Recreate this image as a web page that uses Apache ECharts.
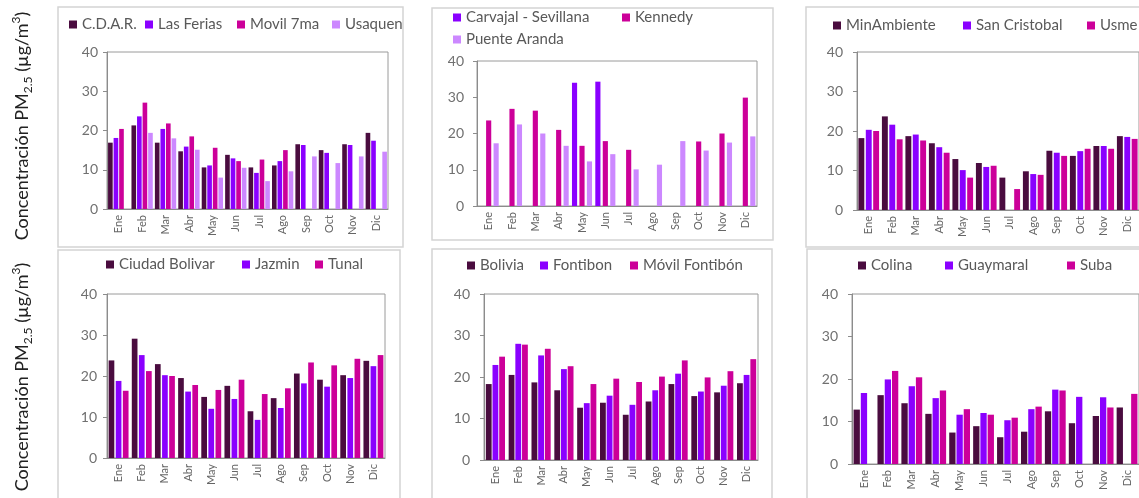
<!DOCTYPE html>
<html>
<head>
<meta charset="utf-8">
<script src="https://cdn.jsdelivr.net/npm/echarts@6/dist/echarts.min.js"></script>
<style>
  html, body { margin: 0; padding: 0; background: #fff; }
  #chart { width: 1139px; height: 498px; }
</style>
</head>
<body>
<div id="chart"></div>
<script>
const months = ['Ene', 'Feb', 'Mar', 'Abr', 'May', 'Jun', 'Jul', 'Ago', 'Sep', 'Oct', 'Nov', 'Dic']
const yTicks = [0, 10, 20, 30, 40]

// panel 1
const cdar = [16.9, 21.3, 16.9, 14.7, 10.6, 13.8, 10.6, 11.1, 16.5, 15.0, 16.5, 19.4]
const lasFerias = [18.1, 23.6, 20.4, 15.9, 11.1, 12.9, 9.2, 12.2, 16.3, 14.3, 16.3, 17.4]
const movil7ma = [20.4, 27.1, 21.8, 18.5, 15.6, 12.2, 12.6, 15.0, null, null, null, null]
const usaquen = [null, 19.4, 18.0, 15.1, 8.0, 10.5, 7.1, 9.6, 13.4, 11.7, 13.4, 14.6]
// panel 2
const carvajal = [null, null, null, null, 34.0, 34.3, null, null, null, null, null, null]
const kennedy = [23.6, 26.8, 26.3, 21.0, 16.6, 17.9, 15.5, null, null, 17.8, 20.0, 29.9]
const puenteAranda = [17.3, 22.5, 20.0, 16.6, 12.3, 14.3, 10.1, 11.4, 17.9, 15.3, 17.5, 19.2]
// panel 3
const minAmbiente = [18.2, 23.7, 18.7, 16.9, 12.9, 11.9, 8.2, 9.8, 15.0, 13.7, 16.2, 18.7]
const sanCristobal = [20.3, 21.6, 19.1, 15.9, 10.1, 10.9, null, 9.1, 14.5, 14.9, 16.2, 18.5]
const usme = [20.0, 17.9, 17.6, 14.5, 8.2, 11.2, 5.3, 8.9, 13.7, 15.5, 15.5, 18.0]
// panel 4
const ciudadBolivar = [23.8, 29.1, 22.9, 19.5, 14.9, 17.6, 11.4, 14.6, 20.6, 19.1, 20.2, 23.7]
const jazmin = [18.8, 25.1, 20.2, 16.2, 12.0, 14.4, 9.3, 12.2, 18.2, 17.4, 19.5, 22.4]
const tunal = [16.4, 21.2, 20.0, 17.8, 16.6, 19.1, 15.6, 17.0, 23.3, 22.6, 24.2, 25.1]
// panel 5
const bolivia = [18.3, 20.5, 18.7, 16.8, 12.6, 13.8, 10.9, 14.1, 18.3, 15.4, 16.3, 18.5]
const fontibon = [22.9, 28.0, 25.2, 21.9, 13.7, 15.5, 13.3, 16.8, 20.8, 16.5, 17.9, 20.5]
const movilFontibon = [24.9, 27.8, 26.8, 22.6, 18.3, 19.6, 18.8, 20.1, 24.0, 19.9, 21.4, 24.3]
// panel 6
const colina = [12.8, 16.2, 14.3, 11.8, 7.4, 8.9, 6.3, 7.6, 12.4, 9.6, 11.3, 13.3]
const guaymaral = [16.7, 19.9, 18.3, 15.5, 11.6, 12.0, 10.3, 12.9, 17.5, 15.8, 15.7, null]
const suba = [null, 21.9, 20.4, 17.3, 12.9, 11.6, 10.9, 13.5, 17.3, null, 13.3, 16.5]

const DARK = '#4a0c3f'
const VIOLET = '#8a00ff'
const MAGENTA = '#cc0099'
const LAVENDER = '#cc88ff'
const FONT = 'Lato'

const panels = [
  {
    grid: { left: 107, top: 52, width: 281, height: 157 },
    box: [58, 7, 345, 240],
    labelMargin: 9, catGap: '9%', barGap: '20%',
    series: [
      ['C.D.A.R.', cdar, DARK, 69, 27],
      ['Las Ferias', lasFerias, VIOLET, 145, 27],
      ['Movil 7ma', movil7ma, MAGENTA, 237, 27],
      ['Usaquen', usaquen, LAVENDER, 332, 27]
    ]
  },
  {
    grid: { left: 477, top: 61, width: 280, height: 145 },
    box: [432, 8, 341, 232],
    labelMargin: 13, catGap: '14%', barGap: '45%',
    series: [
      ['Carvajal - Sevillana', carvajal, VIOLET, 453, 20],
      ['Kennedy', kennedy, MAGENTA, 622, 20],
      ['Puente Aranda', puenteAranda, LAVENDER, 453, 42]
    ]
  },
  {
    grid: { left: 857, top: 52, width: 284, height: 158 },
    box: [806, 7, 400, 240],
    labelMargin: 14, catGap: '12%', barGap: '25%',
    series: [
      ['MinAmbiente', minAmbiente, DARK, 833, 28],
      ['San Cristobal', sanCristobal, VIOLET, 963, 28],
      ['Usme', usme, MAGENTA, 1087, 28]
    ]
  },
  {
    grid: { left: 107, top: 294, width: 278, height: 164 },
    box: [58, 250, 342, 260],
    labelMargin: 10, catGap: '14%', barGap: '25%',
    series: [
      ['Ciudad Bolivar', ciudadBolivar, DARK, 106, 267],
      ['Jazmin', jazmin, VIOLET, 242, 267],
      ['Tunal', tunal, MAGENTA, 315, 267]
    ]
  },
  {
    grid: { left: 484, top: 294, width: 274, height: 166 },
    box: [432, 249, 340, 260],
    labelMargin: 14, catGap: '16%', barGap: '15%',
    series: [
      ['Bolivia', bolivia, DARK, 467, 268],
      ['Fontibon', fontibon, VIOLET, 540, 268],
      ['Móvil Fontibón', movilFontibon, MAGENTA, 630, 268]
    ]
  },
  {
    grid: { left: 852, top: 294, width: 288, height: 170 },
    box: [807, 249, 400, 260],
    labelMargin: 14, catGap: '13%', barGap: '15%',
    series: [
      ['Colina', colina, DARK, 858, 268],
      ['Guaymaral', guaymaral, VIOLET, 945, 268],
      ['Suba', suba, MAGENTA, 1067, 268]
    ]
  }
]

const yTitle = (cx, cy) => ({
  type: 'text',
  x: cx,
  y: cy,
  rotation: Math.PI / 2,
  style: {
    text: '{a|Concentración PM}{b|2.5}{a| (µg/m}{c|3}{a|)}',
    align: 'center',
    verticalAlign: 'middle',
    rich: {
      a: { fontSize: 18, fontFamily: FONT, fill: '#222', lineHeight: 24, verticalAlign: 'middle' },
      b: { fontSize: 12, fontFamily: FONT, fill: '#222', lineHeight: 24, verticalAlign: 'bottom' },
      c: { fontSize: 12, fontFamily: FONT, fill: '#222', lineHeight: 24, verticalAlign: 'top' }
    }
  }
})

let chart = null
const initChart = () => {
  chart = echarts.init(document.getElementById('chart'))

  const grid = []
  const xAxis = []
  const yAxis = []
  const series = []
  const legend = []
  const graphic = []

  panels.forEach((p, i) => {
    grid.push(Object.assign({ show: true, borderColor: '#9a9a9a', borderWidth: 1, backgroundColor: 'transparent' }, p.grid))
    graphic.push({
      type: 'rect',
      shape: { x: p.box[0], y: p.box[1], width: p.box[2], height: p.box[3] },
      style: { fill: 'none', stroke: '#d4d4d4', lineWidth: 1.5 },
      z: -1
    })
    xAxis.push({
      type: 'category',
      gridIndex: i,
      data: months,
      axisLine: { lineStyle: { color: '#8c8c8c' } },
      axisTick: { length: 5, lineStyle: { color: '#8c8c8c' } },
      axisLabel: { rotate: 90, fontSize: 11, fontFamily: FONT, color: '#666', margin: 6 }
    })
    yAxis.push({
      type: 'value',
      gridIndex: i,
      min: yTicks[0],
      max: yTicks[yTicks.length - 1],
      interval: yTicks[1] - yTicks[0],
      axisLine: { show: true, lineStyle: { color: '#8c8c8c' } },
      axisTick: { show: true, length: 4, lineStyle: { color: '#8c8c8c' } },
      splitLine: { show: false },
      axisLabel: { fontSize: 14, fontFamily: FONT, color: '#707070', margin: p.labelMargin }
    })
    p.series.forEach(([name, data, color, lx, ly]) => {
      series.push({
        name,
        type: 'bar',
        xAxisIndex: i,
        yAxisIndex: i,
        data,
        barGap: p.barGap,
        barCategoryGap: p.catGap,
        itemStyle: { color }
      })
      legend.push({
        data: [name],
        left: lx,
        top: ly - 10,
        padding: 0,
        itemWidth: 8,
        itemHeight: 8,
        icon: 'rect',
        textStyle: { fontSize: 15, fontFamily: FONT, color: '#595959' }
      })
    })
  })

  graphic.push(yTitle(22, 126))
  graphic.push(yTitle(22, 377))

  chart.setOption({
    animation: false,
    textStyle: { fontFamily: FONT },
    grid,
    xAxis,
    yAxis,
    legend,
    graphic,
    series
  })
}

initChart()
</script>
</body>
</html>
